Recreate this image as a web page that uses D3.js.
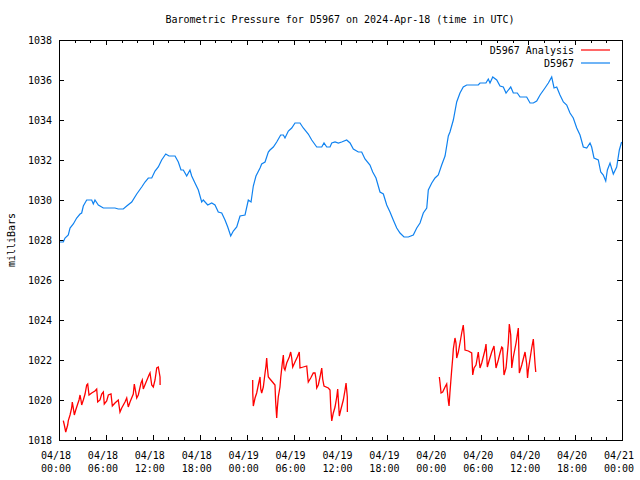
<!DOCTYPE html>
<html>
<head>
<meta charset="utf-8">
<script src="https://cdn.jsdelivr.net/npm/d3@7"></script>
<style>
  body { margin: 0; background: #fff; }
  text { font-family: "DejaVu Sans Mono", monospace; font-size: 10px; fill: #000; }
</style>
</head>
<body>
<svg id="chart" width="640" height="480"></svg>
<script>
// hours since 2024-04-18 00:00 UTC, pressure in mb
const stationHours = [0, 0.55, 0.77, 1.19, 1.41, 1.83, 2.26, 2.69, 2.9, 3.11, 3.54, 4.18, 4.39, 4.6, 5.03, 5.67, 7.16, 7.58, 8.22, 8.66,
  9.3, 9.94, 10.58, 11.0, 11.42, 11.86, 12.28, 12.7, 13.13, 13.65, 14.07, 14.84, 15.26, 15.6, 15.9, 16.33, 16.75, 16.97, 17.39, 17.82,
  18.25, 18.45, 19.02, 19.53, 19.95, 20.37, 20.81, 21.23, 21.58, 21.96, 22.29, 22.73, 23.15, 23.79, 24.21, 24.56, 24.85, 25.19, 25.71, 25.92,
  26.35, 26.77, 26.98, 27.41, 27.84, 28.35, 28.69, 28.9, 29.33, 29.76, 30.18, 30.82, 31.24, 31.88, 32.32, 32.96, 33.6, 33.89, 34.24, 34.66,
  34.88, 35.3, 35.73, 36.15, 36.79, 37.22, 37.64, 38.28, 38.71, 39.13, 39.77, 40.12, 40.54, 41.05, 41.48, 41.91, 42.33, 42.75, 43.19, 43.61,
  44.12, 44.67, 45.31, 45.75, 46.17, 46.59, 47.03, 47.23, 47.67, 48.09, 48.51, 48.94, 49.37, 49.79, 50.0, 50.43, 50.86, 51.28, 51.7, 52.14,
  53.62, 53.84, 54.6, 54.9, 55.12, 55.47, 55.98, 56.4, 56.82, 57.17, 57.46, 57.77, 58.1, 58.61, 58.96, 59.81, 60.24, 60.66, 61.09, 61.52,
  62.15, 62.58, 63.01, 63.31, 63.65, 64.07, 64.5, 64.93, 65.35, 65.77, 66.21, 66.63, 67.05, 67.49, 67.91, 68.12, 68.42, 68.97, 69.28, 69.61,
  69.92, 70.13, 70.47, 70.89, 71.32, 71.66, 71.95];
const stationValues = [1027.9, 1027.9, 1028.1, 1028.25, 1028.6, 1028.8, 1029.1, 1029.3, 1029.35, 1029.7, 1030.0, 1030.0, 1029.8, 1030.0, 1029.75, 1029.6, 1029.6, 1029.55, 1029.55, 1029.7,
  1029.9, 1030.3, 1030.65, 1030.9, 1031.1, 1031.1, 1031.45, 1031.65, 1032.0, 1032.3, 1032.2, 1032.2, 1031.9, 1031.5, 1031.5, 1031.2, 1031.5, 1031.2, 1030.85, 1030.5,
  1029.9, 1030.0, 1029.75, 1029.85, 1029.75, 1029.4, 1029.35, 1029.0, 1028.65, 1028.2, 1028.45, 1028.65, 1029.2, 1029.25, 1030.0, 1029.9, 1030.7, 1031.2, 1031.6, 1031.8,
  1031.9, 1032.4, 1032.5, 1032.65, 1032.9, 1033.25, 1033.25, 1033.1, 1033.45, 1033.6, 1033.85, 1033.85, 1033.6, 1033.3, 1033.0, 1032.65, 1032.65, 1032.85, 1032.65, 1032.65,
  1032.85, 1032.9, 1032.85, 1032.9, 1033.0, 1032.85, 1032.55, 1032.4, 1032.4, 1032.05, 1031.75, 1031.4, 1031.1, 1030.4, 1030.3, 1029.75, 1029.4, 1029.0, 1028.6, 1028.35,
  1028.15, 1028.15, 1028.25, 1028.6, 1028.85, 1029.35, 1029.6, 1030.5, 1030.85, 1031.1, 1031.25, 1031.75, 1032.2, 1033.2, 1033.4, 1034.0, 1034.9, 1035.35, 1035.65, 1035.75,
  1035.75, 1035.85, 1035.85, 1036.05, 1035.85, 1036.15, 1036.0, 1035.7, 1035.65, 1035.35, 1035.5, 1035.65, 1035.35, 1035.35, 1035.15, 1035.15, 1034.85, 1034.85, 1034.95, 1035.25,
  1035.6, 1035.85, 1036.15, 1035.6, 1035.65, 1035.25, 1034.9, 1034.75, 1034.35, 1034.1, 1033.6, 1033.25, 1032.65, 1032.6, 1032.85, 1032.65, 1032.1, 1032.0, 1031.4, 1031.25,
  1030.95, 1031.5, 1031.85, 1031.3, 1031.65, 1032.5, 1032.9];

// analysis, three separate runs
const analysisHours1 = [0.55, 0.68, 0.86, 1.11, 1.19, 1.41, 1.62, 1.7, 1.83, 1.96, 2.14, 2.39, 2.56, 2.69, 2.81, 2.9, 3.11, 3.33, 3.54, 3.67,
  3.84, 4.18, 4.6, 4.82, 4.95, 5.24, 5.46, 5.67, 5.79, 6.1, 6.31, 6.65, 6.82, 7.16, 7.58, 7.8, 8.02, 8.44, 8.66, 8.86,
  9.08, 9.5, 9.63, 9.81, 9.94, 10.14, 10.49, 10.65, 10.78, 11.09, 11.51, 11.64, 11.86, 12.06, 12.28, 12.5, 12.7, 12.92, 12.93];
const analysisValues1 = [1018.97, 1018.75, 1018.4, 1018.75, 1018.97, 1019.25, 1019.6, 1019.9, 1019.6, 1019.25, 1019.5, 1019.8, 1020.0, 1020.25, 1020.0, 1019.75, 1020.0, 1020.3, 1020.75, 1020.8,
  1020.25, 1020.35, 1020.45, 1020.55, 1019.9, 1020.0, 1020.3, 1020.4, 1019.8, 1019.95, 1020.25, 1020.3, 1019.7, 1019.85, 1020.0, 1019.4, 1019.6, 1019.9, 1020.1, 1019.65,
  1019.9, 1020.3, 1020.8, 1020.4, 1020.1, 1020.25, 1020.85, 1021.0, 1020.55, 1020.85, 1021.25, 1021.35, 1020.75, 1020.65, 1021.0, 1021.6, 1021.65, 1021.15, 1020.75];

const analysisHours2 = [24.77, 24.78, 24.85, 25.07, 25.28, 25.49, 25.71, 25.8, 25.92, 26.13, 26.35, 26.47, 26.56, 26.64, 26.77, 26.98, 27.41, 27.62, 27.71, 27.84,
  27.92, 28.04, 28.26, 28.35, 28.56, 28.69, 28.78, 28.9, 29.12, 29.45, 29.63, 29.76, 29.89, 30.18, 30.48, 30.73, 30.82, 31.24, 31.68, 31.81,
  31.88, 32.19, 32.52, 32.74, 32.87, 32.96, 33.16, 33.38, 33.6, 33.72, 33.89, 34.44, 34.66, 34.75, 34.88, 35.08, 35.3, 35.52, 35.64, 35.85,
  36.03, 36.36, 36.58, 36.71, 36.87, 36.88];
const analysisValues2 = [1021.0, 1020.35, 1019.7, 1020.1, 1020.35, 1020.75, 1021.15, 1020.55, 1020.35, 1020.65, 1021.35, 1021.7, 1022.1, 1021.65, 1021.15, 1021.05, 1020.85, 1020.75, 1019.9, 1019.1,
  1019.6, 1020.15, 1020.65, 1021.1, 1021.85, 1022.25, 1021.6, 1021.5, 1021.85, 1022.15, 1022.4, 1022.1, 1021.65, 1021.9, 1022.15, 1022.4, 1021.6, 1021.65, 1021.7, 1021.15,
  1020.9, 1021.1, 1021.35, 1021.35, 1021.05, 1020.6, 1020.75, 1021.15, 1021.6, 1021.05, 1020.7, 1020.6, 1020.5, 1019.65, 1018.95, 1019.35, 1019.65, 1020.15, 1020.55, 1019.2,
  1019.5, 1020.0, 1020.5, 1020.85, 1020.15, 1019.4];

const analysisHours3 = [48.64, 48.73, 48.86, 49.07, 49.37, 49.58, 49.66, 49.79, 49.88, 50.0, 50.1, 50.22, 50.35, 50.43, 50.64, 50.77, 50.86, 51.07, 51.28, 51.5,
  51.7, 51.83, 51.92, 52.35, 52.78, 52.91, 53.08, 53.33, 53.62, 53.84, 54.06, 54.48, 54.61, 54.78, 55.03, 55.34, 55.63, 55.89, 56.18, 56.4,
  56.62, 56.74, 56.91, 57.17, 57.46, 57.59, 57.77, 57.9, 58.1, 58.45, 58.74, 58.87, 59.18, 59.6, 59.81, 59.92, 60.02, 60.45, 60.66, 60.88, 60.97];
const analysisValues3 = [1021.15, 1020.85, 1020.35, 1020.4, 1020.65, 1020.8, 1020.45, 1019.95, 1019.7, 1020.4, 1020.9, 1021.5, 1022.1, 1022.55, 1023.1, 1022.85, 1022.1, 1022.4, 1022.85, 1023.35,
  1023.75, 1023.15, 1022.5, 1022.45, 1022.35, 1021.25, 1021.6, 1021.75, 1022.4, 1021.6, 1021.85, 1022.5, 1022.8, 1021.65, 1022.0, 1022.4, 1022.7, 1021.6, 1022.0, 1022.35,
  1022.65, 1022.6, 1021.25, 1021.6, 1022.85, 1023.8, 1023.25, 1021.6, 1022.15, 1022.85, 1023.6, 1021.35, 1021.75, 1022.4, 1021.8, 1021.1, 1021.5, 1022.6, 1023.05, 1021.8, 1021.4];

const yTicks = [1018, 1020, 1022, 1024, 1026, 1028, 1030, 1032, 1034, 1036, 1038];

const startTime = Date.UTC(2024, 3, 18);
const toDate = h => new Date(startTime + h * 3600e3);

const plotLeft = 59, plotRight = 622, plotTop = 40, plotBottom = 440;
const svg = d3.select("#chart");

let x = d3.scaleUtc()
  .domain([toDate(0), toDate(72)])
  .range([plotLeft, plotRight]);
let y = d3.scaleLinear()
  .domain([1018, 1038])
  .range([plotBottom, plotTop]);

// title
svg.append("text")
  .attr("x", 340).attr("y", 23)
  .attr("text-anchor", "middle")
  .text("Barometric Pressure for D5967 on 2024-Apr-18 (time in UTC)");

// y label
svg.append("text")
  .attr("transform", "translate(15,240) rotate(-90)")
  .attr("text-anchor", "middle")
  .text("milliBars");

// ticks, inward on all four sides
let majorX = d3.utcHour.every(6).range(toDate(0), toDate(72.01));
let minorX = d3.utcHour.every(2).range(toDate(0), toDate(72.01));
let tickG = svg.append("g").attr("stroke", "#000").attr("stroke-width", 1);

minorX.forEach(function(d) {
  let px = Math.round(x(d)) + 0.5;
  let len = (d.getUTCHours() % 6 == 0) ? 5 : 3;
  tickG.append("line").attr("x1", px).attr("x2", px).attr("y1", plotBottom).attr("y2", plotBottom - len);
  tickG.append("line").attr("x1", px).attr("x2", px).attr("y1", plotTop).attr("y2", plotTop + len);
});

yTicks.forEach(function(v) {
  let py = Math.round(y(v)) + 0.5;
  tickG.append("line").attr("x1", plotLeft).attr("x2", plotLeft + 5).attr("y1", py).attr("y2", py);
  tickG.append("line").attr("x1", plotRight).attr("x2", plotRight - 5).attr("y1", py).attr("y2", py);
});

// y tick labels
svg.append("g").selectAll("text")
  .data(yTicks)
  .join("text")
  .attr("x", plotLeft - 7)
  .attr("y", d => y(d) + 4)
  .attr("text-anchor", "end")
  .text(d => d);

// x tick labels (two rows)
let dayFormat = d3.utcFormat("%m/%d");
let timeFormat = d3.utcFormat("%H:%M");
let xLabels = svg.append("g").selectAll("text")
  .data(majorX)
  .join("text")
  .attr("text-anchor", "middle");
xLabels.append("tspan")
  .attr("x", d => x(d) - 3)
  .attr("y", 459)
  .text(d => dayFormat(d));
xLabels.append("tspan")
  .attr("x", d => x(d) - 3)
  .attr("y", 472)
  .text(d => timeFormat(d));

// lines
let line = d3.line()
  .x(d => x(toDate(d[0])))
  .y(d => y(d[1]));

let plot = svg.append("g");

[[analysisHours1, analysisValues1], [analysisHours2, analysisValues2], [analysisHours3, analysisValues3]]
  .forEach(function(seg) {
    plot.append("path")
      .datum(d3.zip(seg[0], seg[1]))
      .attr("fill", "none")
      .attr("stroke", "#ff0000")
      .attr("stroke-width", 1.3)
      .attr("d", line);
  });

plot.append("path")
  .datum(d3.zip(stationHours, stationValues))
  .attr("fill", "none")
  .attr("stroke", "#0f82f0")
  .attr("stroke-width", 1.2)
  .attr("d", line);

// frame
svg.append("rect")
  .attr("x", plotLeft + 0.5).attr("y", plotTop + 0.5)
  .attr("width", plotRight - plotLeft).attr("height", plotBottom - plotTop)
  .attr("fill", "none")
  .attr("stroke", "#000");

// legend
let legend = svg.append("g");
let legendItems = [["D5967 Analysis", "#ff0000"], ["D5967", "#0f82f0"]];
legendItems.forEach(function(item, i) {
  let ly = 50 + i * 13;
  legend.append("text")
    .attr("x", 574).attr("y", ly + 4)
    .attr("text-anchor", "end")
    .text(item[0]);
  legend.append("line")
    .attr("x1", 581).attr("x2", 610)
    .attr("y1", ly).attr("y2", ly)
    .attr("stroke", item[1])
    .attr("stroke-width", 1.2);
});
</script>
</body>
</html>
